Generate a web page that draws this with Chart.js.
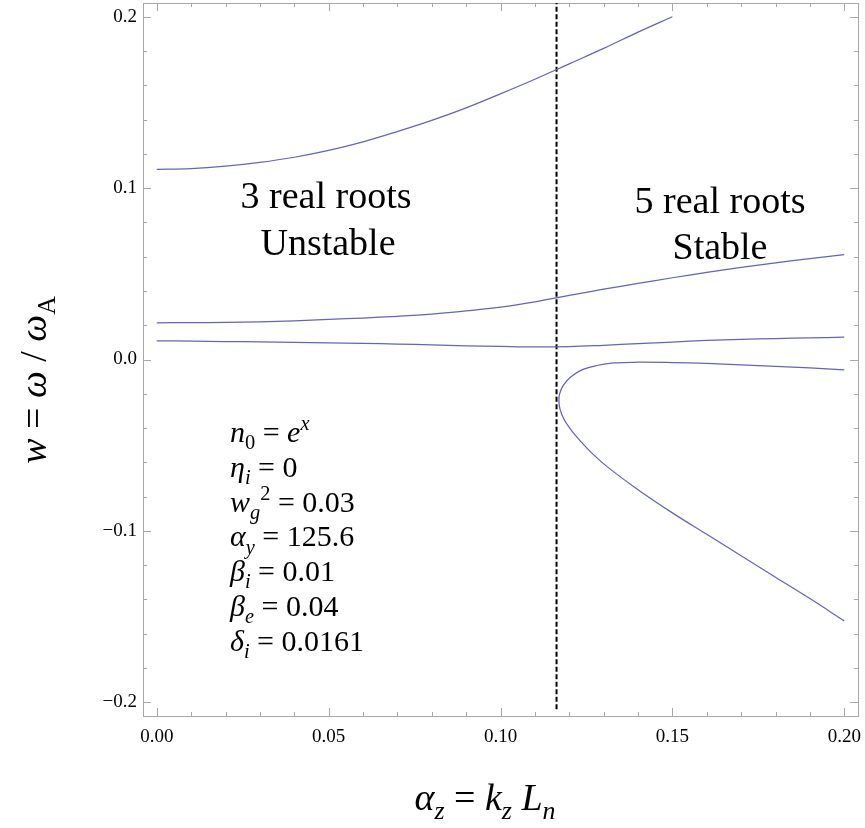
<!DOCTYPE html>
<html>
<head>
<meta charset="utf-8">
<script src="https://cdn.jsdelivr.net/npm/chart.js@4/dist/chart.umd.min.js"></script>
<style>
  html, body { margin: 0; padding: 0; background: #fff; }
  canvas { display: block; }
</style>
</head>
<body>
<canvas id="rootsChart" width="865" height="828"></canvas>
<script>
// roots of the dispersion relation vs alpha_z
const azGrid = [0, 0.01, 0.02, 0.03, 0.04, 0.05, 0.06, 0.07, 0.08, 0.09, 0.10,
                0.11, 0.12, 0.13, 0.14, 0.15, 0.16, 0.17, 0.18, 0.19, 0.20];
const rootTop = [0.1110, 0.1114, 0.1128, 0.1150, 0.1180, 0.1220, 0.1270, 0.1330,
                 0.1395, 0.1468, 0.1550, 0.1635, 0.1725, 0.1815, 0.1910, 0.2000];
const rootMid = [0.0214, 0.0215, 0.0217, 0.0220, 0.0226, 0.0234, 0.0242, 0.0252,
                 0.0265, 0.0283, 0.0305, 0.0336, 0.0374, 0.0410, 0.0444, 0.0477,
                 0.0508, 0.0537, 0.0564, 0.0589, 0.0612];
const rootLow = [0.0109, 0.0107, 0.0105, 0.0103, 0.0100, 0.0097, 0.0094, 0.0090,
                 0.0085, 0.0080, 0.0076, 0.0073, 0.0075, 0.0083, 0.0093, 0.0102,
                 0.0111, 0.0117, 0.0122, 0.0126, 0.0130];
// the pair of roots that appears past the threshold (upper branch, turning point, lower branch)
const branchX = [0.200, 0.190, 0.180, 0.170, 0.160, 0.150, 0.140, 0.133, 0.128, 0.124,
                 0.1205, 0.1183, 0.1172, 0.1170, 0.1173, 0.1185, 0.1205, 0.1230,
                 0.1265, 0.131, 0.140, 0.150, 0.160, 0.170, 0.180, 0.190, 0.200];
const branchY = [-0.0060, -0.0049, -0.0040, -0.0031, -0.0023, -0.0018, -0.0016, -0.0020,
                 -0.0035, -0.0058, -0.0100, -0.0150, -0.0200, -0.0240, -0.0290, -0.0350,
                 -0.0410, -0.0470, -0.0545, -0.0625, -0.0760, -0.0895, -0.1020, -0.1145,
                 -0.1270, -0.1395, -0.1525];
const threshold = 0.1163;
const thresholdY = [-0.204, 0.2082];

const xTicks = [0, 0.05, 0.10, 0.15, 0.20];
const yTicks = [-0.2, -0.1, 0, 0.1, 0.2];
const xMinor = [0, 0.01, 0.02, 0.03, 0.04, 0.05, 0.06, 0.07, 0.08, 0.09, 0.10,
                0.11, 0.12, 0.13, 0.14, 0.15, 0.16, 0.17, 0.18, 0.19, 0.20];
const yMinor = [-0.2, -0.18, -0.16, -0.14, -0.12, -0.1, -0.08, -0.06, -0.04, -0.02, 0,
                0.02, 0.04, 0.06, 0.08, 0.1, 0.12, 0.14, 0.16, 0.18, 0.2];

const SERIF = "'Liberation Serif', 'DejaVu Serif', serif";
const LINE = 'rgb(100, 100, 186)';

function toPoints(xs, ys) {
    return ys.map((y, i) => ({ x: xs[i], y: y }));
}

function curve(points) {
    return {
        data: points,
        showLine: true,
        borderColor: LINE,
        borderWidth: 1.25,
        pointRadius: 0,
        tension: 0.4,
        fill: false
    };
}

// text with italic / subscript / superscript runs
function drawRich(ctx, runs, x, y, size, align) {
    const parts = runs.map(r => {
        const f = r[1] || '';
        const small = f.includes('b') || f.includes('p');
        const sz = small ? size * 0.68 : size;
        const font = (f.includes('i') ? 'italic ' : '') + sz + 'px ' + SERIF;
        let dy = 0;
        if (f.includes('b')) dy = size * 0.24;
        if (f.includes('p')) dy = -size * 0.4;
        ctx.font = font;
        return { text: r[0], font: font, dy: dy, w: ctx.measureText(r[0]).width };
    });
    const total = parts.reduce((s, p) => s + p.w, 0);
    let cx = x;
    if (align === 'center') cx = x - total / 2;
    ctx.textAlign = 'left';
    ctx.textBaseline = 'alphabetic';
    parts.forEach(p => {
        ctx.font = p.font;
        ctx.fillText(p.text, cx, y + p.dy);
        cx += p.w;
    });
}

const paramLines = [
    [['n', 'i'], ['0', 'b'], [' = '], ['e', 'i'], ['x', 'ip']],
    [['η', 'i'], ['i', 'ib'], [' = 0']],
    [['w', 'i'], ['g', 'ib'], ['2', 'p'], [' = 0.03']],
    [['α', 'i'], ['y', 'ib'], [' = 125.6']],
    [['β', 'i'], ['i', 'ib'], [' = 0.01']],
    [['β', 'i'], ['e', 'ib'], [' = 0.04']],
    [['δ', 'i'], ['i', 'ib'], [' = 0.0161']]
];

const framePlugin = {
    id: 'frameTicks',
    beforeDatasetsDraw(chart) {
        const { ctx, chartArea: a, scales } = chart;
        ctx.save();
        ctx.strokeStyle = '#a8a8a8';
        ctx.lineWidth = 1;
        ctx.strokeRect(Math.round(a.left) + 0.5, Math.round(a.top) + 0.5,
                       Math.round(a.right - a.left), Math.round(a.bottom - a.top));
        ctx.beginPath();
        xMinor.forEach((v, i) => {
            const px = Math.round(scales.x.getPixelForValue(v)) + 0.5;
            const len = i % 5 === 0 ? 8 : 4;
            ctx.moveTo(px, a.bottom); ctx.lineTo(px, a.bottom - len);
            ctx.moveTo(px, a.top); ctx.lineTo(px, a.top + len);
        });
        yMinor.forEach((v, i) => {
            const py = Math.round(scales.y.getPixelForValue(v)) + 0.5;
            const len = i % 5 === 0 ? 8 : 4;
            ctx.moveTo(a.left, py); ctx.lineTo(a.left + len, py);
            ctx.moveTo(a.right, py); ctx.lineTo(a.right - len, py);
        });
        ctx.stroke();
        ctx.restore();
    },
    afterDraw(chart) {
        const ctx = chart.ctx;
        ctx.save();
        ctx.fillStyle = '#000';
        // region labels
        ctx.font = '38px ' + SERIF;
        ctx.textAlign = 'center';
        ctx.textBaseline = 'alphabetic';
        ctx.fillText('3 real roots', 326, 208);
        ctx.fillText('Unstable', 328, 255);
        ctx.fillText('5 real roots', 720, 213);
        ctx.fillText('Stable', 720, 259);
        // parameters
        paramLines.forEach((runs, i) => drawRich(ctx, runs, 230, 442 + i * 34.8, 30, 'left'));
        // axis titles
        drawRich(ctx, [['α', 'i'], ['z', 'ib'], [' = '], ['k', 'i'], ['z', 'ib'], [' '], ['L', 'i'], ['n', 'ib']],
                 485, 810, 38, 'center');
        ctx.translate(46, 380);
        ctx.rotate(-Math.PI / 2);
        drawRich(ctx, [['w', 'i'], [' = '], ['ω', 'i'], [' / '], ['ω', 'i'], ['A', 'b']], 0, 0, 38, 'center');
        ctx.restore();
    }
};

const ctx = document.getElementById('rootsChart').getContext('2d');
new Chart(ctx, {
    type: 'scatter',
    data: {
        datasets: [
            curve(toPoints(azGrid, rootTop)),
            curve(toPoints(azGrid, rootMid)),
            curve(toPoints(azGrid, rootLow)),
            curve(toPoints(branchX, branchY)),
            {
                data: thresholdY.map(y => ({ x: threshold, y: y })),
                showLine: true,
                borderColor: '#000',
                borderWidth: 2,
                borderDash: [5, 2.5],
                pointRadius: 0
            }
        ]
    },
    options: {
        responsive: false,
        animation: false,
        layout: { padding: { top: 3, right: 7, left: 0, bottom: 0 } },
        plugins: { legend: { display: false }, tooltip: { enabled: false } },
        scales: {
            x: {
                type: 'linear',
                min: -0.004,
                max: 0.204,
                grid: { display: false, drawTicks: false },
                border: { display: false },
                afterBuildTicks: s => { s.ticks = xTicks.map(v => ({ value: v })); },
                afterFit: s => { s.height = 112; s.paddingLeft = 0; s.paddingRight = 0; },
                ticks: {
                    autoSkip: false,
                    maxRotation: 0,
                    padding: 10,
                    color: '#000',
                    font: { family: SERIF, size: 19 },
                    callback: v => v.toFixed(2)
                }
            },
            y: {
                type: 'linear',
                min: -0.208,
                max: 0.208,
                grid: { display: false, drawTicks: false },
                border: { display: false },
                afterBuildTicks: s => { s.ticks = yTicks.map(v => ({ value: v })); },
                afterFit: s => { s.width = 143; s.paddingTop = 0; s.paddingBottom = 0; },
                ticks: {
                    autoSkip: false,
                    padding: 6,
                    color: '#000',
                    font: { family: SERIF, size: 19 },
                    callback: v => (v < -1e-9 ? '\u2212' : '') + Math.abs(v).toFixed(1)
                }
            }
        }
    },
    plugins: [framePlugin]
});
</script>
</body>
</html>
